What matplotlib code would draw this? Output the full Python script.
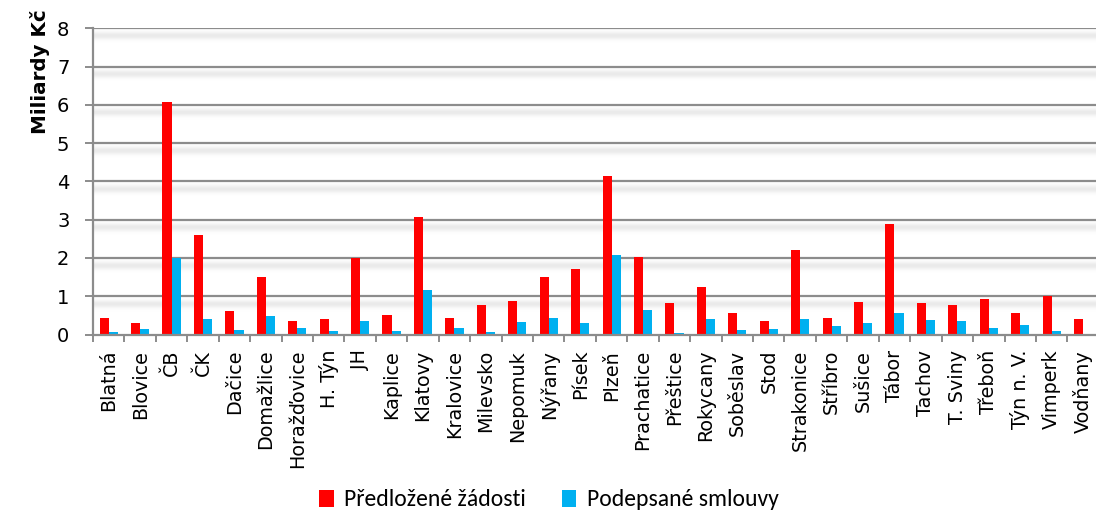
import numpy as np
import matplotlib
matplotlib.use("Agg")
import matplotlib.pyplot as plt
from matplotlib.patches import Patch

# Regional data (billions CZK)
categories = ["Blatná", "Blovice", "ČB", "ČK", "Dačice", "Domažlice", "Horažďovice",
              "H. Týn", "JH", "Kaplice", "Klatovy", "Kralovice", "Milevsko", "Nepomuk",
              "Nýřany", "Písek", "Plzeň", "Prachatice", "Přeštice", "Rokycany",
              "Soběslav", "Stod", "Strakonice", "Stříbro", "Sušice", "Tábor", "Tachov",
              "T. Sviny", "Třeboň", "Týn n. V.", "Vimperk", "Vodňany"]
submitted = [0.42, 0.30, 6.08, 2.60, 0.62, 1.50, 0.34, 0.40, 2.00, 0.50,
             3.07, 0.43, 0.76, 0.88, 1.50, 1.71, 4.15, 2.02, 0.82, 1.24,
             0.56, 0.36, 2.21, 0.43, 0.84, 2.89, 0.82, 0.76, 0.92, 0.55,
             1.00, 0.40]
signed = [0.07, 0.14, 2.00, 0.40, 0.12, 0.48, 0.16, 0.08, 0.34, 0.10,
          1.16, 0.16, 0.06, 0.32, 0.42, 0.30, 2.07, 0.64, 0.04, 0.40,
          0.12, 0.14, 0.40, 0.22, 0.29, 0.55, 0.38, 0.36, 0.16, 0.24,
          0.08, 0.00]
series_names = ["Předložené žádosti", "Podepsané smlouvy"]
y_ticks = [0, 1, 2, 3, 4, 5, 6, 7, 8]

RED = "#ff0000"
BLUE = "#00b0f0"
GRID = "#8c8c8c"
TICK_FONT = ["DejaVu Sans"]
LEGEND_FONT = ["Carlito", "Archivo Narrow", "DejaVu Sans"]

W, H = 1096, 530
fig = plt.figure(figsize=(W / 100, H / 100), dpi=100)
ax = fig.add_axes([93 / W, 1 - 334.5 / H, 1005.8 / W, (334.5 - 28.3) / H])

n = len(categories)
x = np.arange(n) + 0.5
bw = 0.29
ax.set_xlim(0, n)
ax.set_ylim(0, 8)

# soft shadow band under each gridline
yy = np.linspace(0, 8, 1200)
shade = np.zeros_like(yy)
for g in y_ticks[1:]:
    shade += np.exp(-0.5 * ((yy - (g - 0.22)) / 0.07) ** 2)
shade = np.clip(shade, 0, 1)
img = 1 - 0.085 * shade
ax.imshow(img[::-1, None], extent=[0, n, 0, 8], aspect="auto", cmap="gray",
          vmin=0, vmax=1, zorder=0, interpolation="bilinear")

for g in y_ticks[1:]:
    ax.axhline(g, color=GRID, lw=1.6, zorder=1)

ax.bar(x - bw / 2, submitted, width=bw, color=RED, zorder=3, linewidth=0)
ax.bar(x + bw / 2, signed, width=bw, color=BLUE, zorder=3, linewidth=0)

for s in ["top", "right"]:
    ax.spines[s].set_visible(False)
for s in ["left", "bottom"]:
    ax.spines[s].set_color(GRID)
    ax.spines[s].set_linewidth(1.6)
    ax.spines[s].set_zorder(4)

ax.set_yticks(y_ticks)
ax.set_yticklabels([str(v) for v in y_ticks], fontsize=14, family=TICK_FONT)
ax.tick_params(axis="y", length=6, width=1.4, color=GRID, pad=11)

ax.set_xticks(np.arange(n + 1))
ax.set_xticklabels([])
ax.tick_params(axis="x", which="major", length=5, width=1.4, color=GRID)
ax.set_xticks(x, minor=True)
ax.set_xticklabels(categories, minor=True, rotation=90, fontsize=13.8,
                   family=TICK_FONT, va="top", ha="center")
ax.tick_params(axis="x", which="minor", length=0, pad=11)

fig.text(40 / W, 1 - 72 / H, "Miliardy Kč", rotation=90, ha="center", va="center",
         fontsize=14.3, fontweight="bold", family=TICK_FONT)

handles = [Patch(facecolor=RED, edgecolor="none"), Patch(facecolor=BLUE, edgecolor="none")]
fig.legend(handles, series_names, loc="center", bbox_to_anchor=(549 / W, 1 - 500 / H),
           ncol=2, frameon=False, handlelength=0.62, handleheight=0.75, handletextpad=0.45,
           columnspacing=1.5, prop={"family": LEGEND_FONT, "size": 17})

fig.savefig("out.png", dpi=100)
